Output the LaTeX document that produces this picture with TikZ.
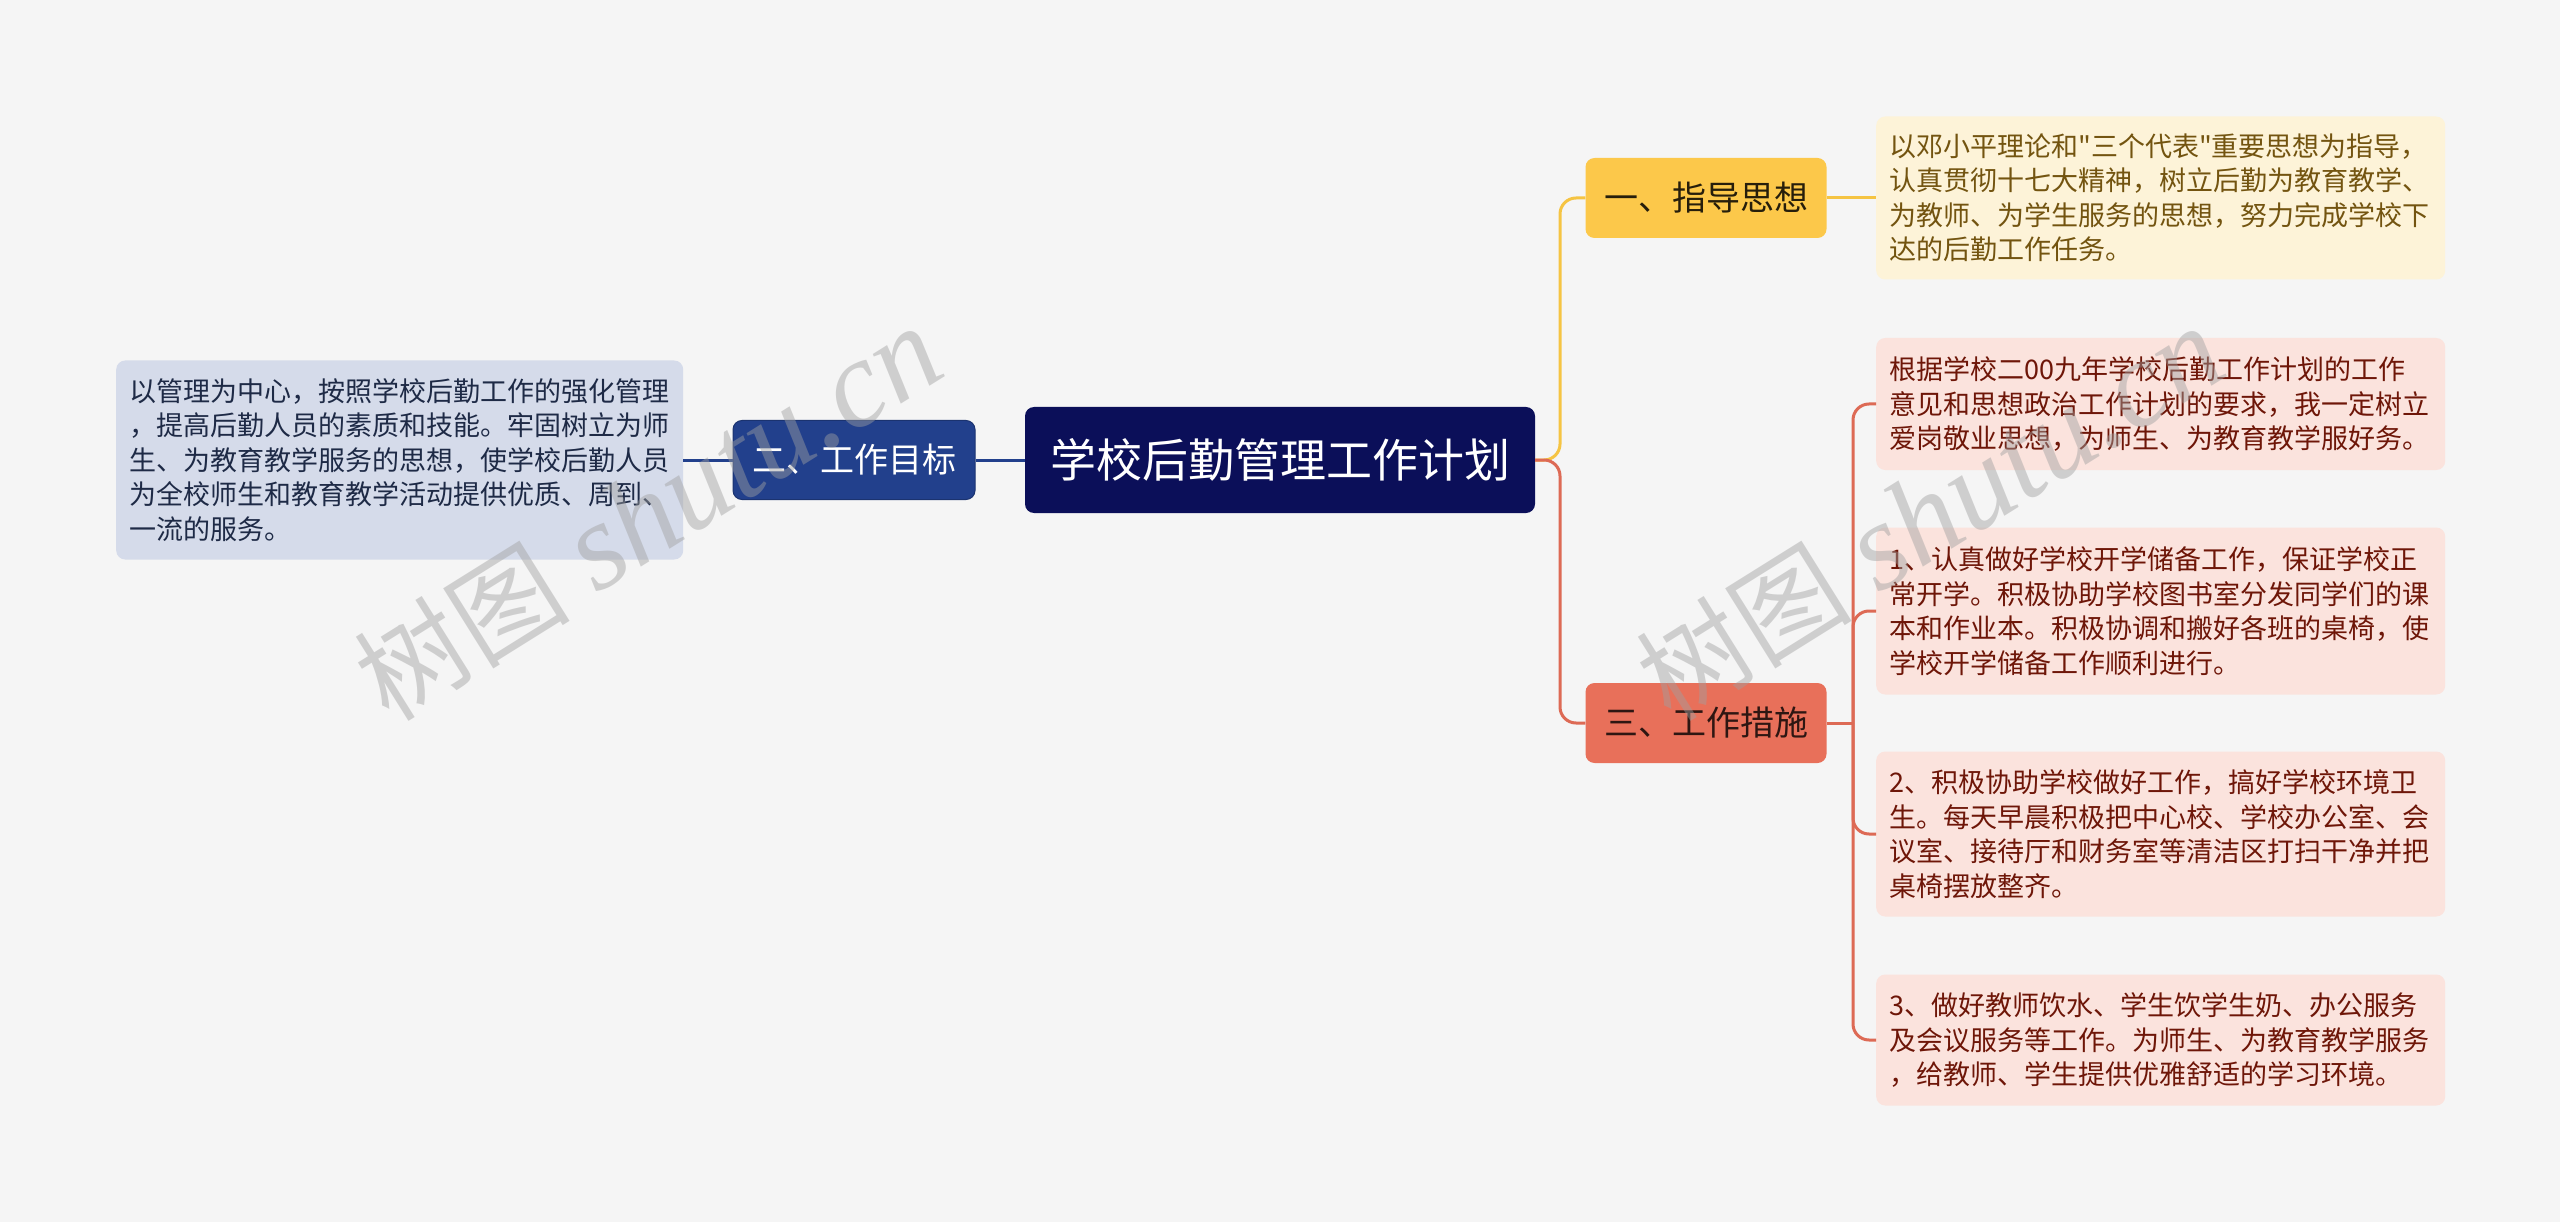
\documentclass[tikz,border=0pt]{standalone}
\usepackage{fontspec}
\setmainfont{Noto Sans CJK SC}
\newfontfamily\cjk{Noto Sans CJK SC}
\newfontfamily\wmserif{Liberation Serif}
\definecolor{bg}{HTML}{F5F5F5}
\definecolor{rootc}{HTML}{0B0F59}
\definecolor{bluec}{HTML}{22408C}
\definecolor{leftleafc}{HTML}{D5DBEA}
\definecolor{leftleaft}{HTML}{1E2A46}
\definecolor{yelc}{HTML}{FCC84A}
\definecolor{yelline}{HTML}{F5C443}
\definecolor{yleafc}{HTML}{FDF3D8}
\definecolor{yleaft}{HTML}{735410}
\definecolor{redc}{HTML}{E8705A}
\definecolor{redline}{HTML}{DD6A55}
\definecolor{rleafc}{HTML}{FBE3DD}
\definecolor{rleaft}{HTML}{6E1608}
\definecolor{wmc}{HTML}{A0A0A0}
\tikzset{
  box/.style={rounded corners=9pt, inner sep=0pt, align=center},
  rootbox/.style={box, fill=rootc, text=white, minimum width=510pt, minimum height=106pt, font=\cjk\fontsize{46}{52}\selectfont},
  bluebox/.style={box, fill=bluec, draw=bluec!80!black, line width=1pt, text=white, minimum width=242pt, minimum height=79pt, font=\cjk\fontsize{34}{40}\selectfont},
  yelbox/.style={box, fill=yelc, text=black!85!yelc, minimum width=241pt, minimum height=80pt, font=\cjk\fontsize{34}{40}\selectfont},
  redbox/.style={box, fill=redc, text=black!80!redc, minimum width=241pt, minimum height=80pt, font=\cjk\fontsize{34}{40}\selectfont},
  leaf/.style={rounded corners=9pt, anchor=west, inner ysep=0pt, inner xsep=13pt, align=left, text width=543pt, font=\cjk\fontsize{27}{34.5}\selectfont},
  leftleaf/.style={leaf, fill=leftleafc, text=leftleaft, text width=541pt},
  yleaf/.style={leaf, fill=yleafc, text=yleaft},
  rleaf/.style={leaf, fill=rleafc, text=rleaft},
  bline/.style={draw=bluec, line width=3pt},
  yline/.style={draw=yelline, line width=3pt, rounded corners=16pt},
  rline/.style={draw=redline, line width=3pt, rounded corners=16pt},
  wm/.style={text=wmc, opacity=0.45, rotate=32, inner sep=0pt}
}
\begin{document}
\begin{tikzpicture}[x=1pt,y=-1pt]
\fill[bg] (0,0) rectangle (2560,1222);
\useasboundingbox (0,0) rectangle (2560,1222);

% nodes
\node[rootbox] (root) at (1280,460) {学校后勤管理工作计划};
\node[bluebox] (s2) at (854,460) {二、工作目标};
\node[leftleaf, minimum height=199pt] (l2) at (116,460) {以管理为中心，按照学校后勤工作的强化管理\\，提高后勤人员的素质和技能。牢固树立为师\\生、为教育教学服务的思想，使学校后勤人员\\为全校师生和教育教学活动提供优质、周到、\\一流的服务。};

\node[yelbox] (s1) at (1706,198) {一、指导思想};
\node[yleaf, minimum height=163pt] (l1) at (1876,198) {以邓小平理论和"三个代表"重要思想为指导，\\认真贯彻十七大精神，树立后勤为教育教学、\\为教师、为学生服务的思想，努力完成学校下\\达的后勤工作任务。};

\node[redbox] (s3) at (1706,723) {三、工作措施};
\node[rleaf, minimum height=132pt] (ra) at (1876,404) {根据学校二00九年学校后勤工作计划的工作\\意见和思想政治工作计划的要求，我一定树立\\爱岗敬业思想，为师生、为教育教学服好务。};
\node[rleaf, minimum height=167pt] (rb) at (1876,611) {1、认真做好学校开学储备工作，保证学校正\\常开学。积极协助学校图书室分发同学们的课\\本和作业本。积极协调和搬好各班的桌椅，使\\学校开学储备工作顺利进行。};
\node[rleaf, minimum height=165pt] (rc) at (1876,834) {2、积极协助学校做好工作，搞好学校环境卫\\生。每天早晨积极把中心校、学校办公室、会\\议室、接待厅和财务室等清洁区打扫干净并把\\桌椅摆放整齐。};
\node[rleaf, minimum height=131pt] (rd) at (1876,1040) {3、做好教师饮水、学生饮学生奶、办公服务\\及会议服务等工作。为师生、为教育教学服务\\，给教师、学生提供优雅舒适的学习环境。};

% connectors
\coordinate (rj) at (1560,460);
\coordinate (sj) at (1853,723);
\draw[bline] (root.west) -- (s2.east);
\draw[bline] (s2.west) -- (l2.east);
\draw[yline] (root.east) -- (rj) |- (s1.west);
\draw[yline, rounded corners=0pt] (s1.east) -- (l1.west);
\draw[rline] (root.east) -- (rj) |- (s3.west);
\draw[rline, rounded corners=0pt] (s3.east) -- (sj);
\draw[rline] (sj) |- (ra.west);
\draw[rline] (sj) |- (rb.west);
\draw[rline] (sj) |- (rc.west);
\draw[rline] (sj) |- (rd.west);

% watermarks
\node[wm] (wm1) at (648,514) {{\cjk\fontsize{108}{116}\selectfont 树图}\hspace{28pt}{\wmserif\itshape\fontsize{124}{130}\selectfont shutu.cn}};
\node[wm] (wm2) at (1930,514) {{\cjk\fontsize{108}{116}\selectfont 树图}\hspace{28pt}{\wmserif\itshape\fontsize{124}{130}\selectfont shutu.cn}};
\end{tikzpicture}
\end{document}
